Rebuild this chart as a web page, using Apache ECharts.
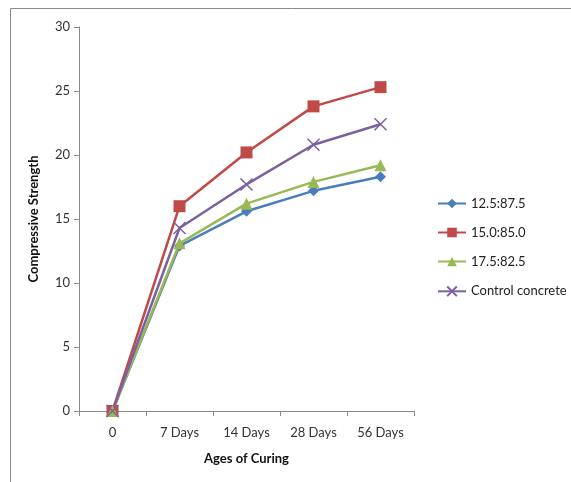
<!DOCTYPE html>
<html><head><meta charset="utf-8">
<script src="https://cdn.jsdelivr.net/npm/echarts@6/dist/echarts.min.js"></script>
<style>html,body{margin:0;padding:0;background:#fff}#c{width:571px;height:482px}</style>
</head><body><div id="c"></div>
<script>
const categories = ['0', '7 Days', '14 Days', '28 Days', '56 Days'];
const s125 = [0, 12.9, 15.6, 17.2, 18.3];
const s150 = [0, 16.0, 20.2, 23.8, 25.3];
const s175 = [0, 13.1, 16.2, 17.9, 19.2];
const sCtrl = [0, 14.3, 17.7, 20.8, 22.4];
const seriesNames = ['12.5:87.5', '15.0:85.0', '17.5:82.5', 'Control concrete'];
const yTicks = [0, 5, 10, 15, 20, 25, 30];

const font = 'Lato, "Open Sans", sans-serif';
const chart = echarts.init(document.getElementById('c'));
function mk(name, data, color, symbol, size, extra) {
  return Object.assign({
    name, type: 'line', data, symbol, symbolSize: size,
    lineStyle: {color, width: 2.5},
    itemStyle: {color},
    animation: false
  }, extra || {});
}
chart.setOption({
  animation: false,
  textStyle: {fontFamily: font},
  graphic: [{type: 'rect', shape: {x: 10.5, y: 8.5, width: 700, height: 700},
    style: {fill: 'none', stroke: '#8a8a8a', lineWidth: 1}, silent: true}],
  grid: {left: 79, top: 27, width: 335, height: 384},
  legend: {
    orient: 'vertical', left: 432, top: 192, padding: 5, itemWidth: 28, itemHeight: 12, itemGap: 16,
    textStyle: {fontSize: 13, color: '#222', fontFamily: font},
    data: seriesNames
  },
  xAxis: {
    type: 'category', data: categories, boundaryGap: true,
    name: 'Ages of Curing', nameLocation: 'middle', nameGap: 41,
    nameTextStyle: {fontWeight: 'bold', fontSize: 13, color: '#111'},
    axisLine: {lineStyle: {color: '#8a8a8a'}},
    axisTick: {show: true, length: 5, lineStyle: {color: '#8a8a8a'}},
    axisLabel: {fontSize: 13, color: '#333', margin: 15}
  },
  yAxis: {
    type: 'value', min: 0, max: 30, interval: 5,
    name: 'Compressive Strength', nameLocation: 'middle', nameGap: 39,
    nameTextStyle: {fontWeight: 'bold', fontSize: 13, color: '#111'},
    axisLine: {show: true, lineStyle: {color: '#8a8a8a'}},
    axisTick: {show: true, length: 5, lineStyle: {color: '#8a8a8a'}},
    splitLine: {show: false},
    axisLabel: {fontSize: 13, color: '#333', margin: 9,
      formatter: v => yTicks.includes(v) ? String(v) : ''}
  },
  series: [
    mk(seriesNames[0], s125, '#4a7ebb', 'diamond', 11),
    mk(seriesNames[1], s150, '#be4b48', 'rect', 12),
    mk(seriesNames[2], s175, '#98b954', 'triangle', 12),
    mk(seriesNames[3], sCtrl, '#7d60a0', 'path://M0,0L10,10M10,0L0,10', 12,
      {itemStyle: {color: 'none', borderColor: '#7d60a0', borderWidth: 1.5}})
  ]
});
</script></body></html>
